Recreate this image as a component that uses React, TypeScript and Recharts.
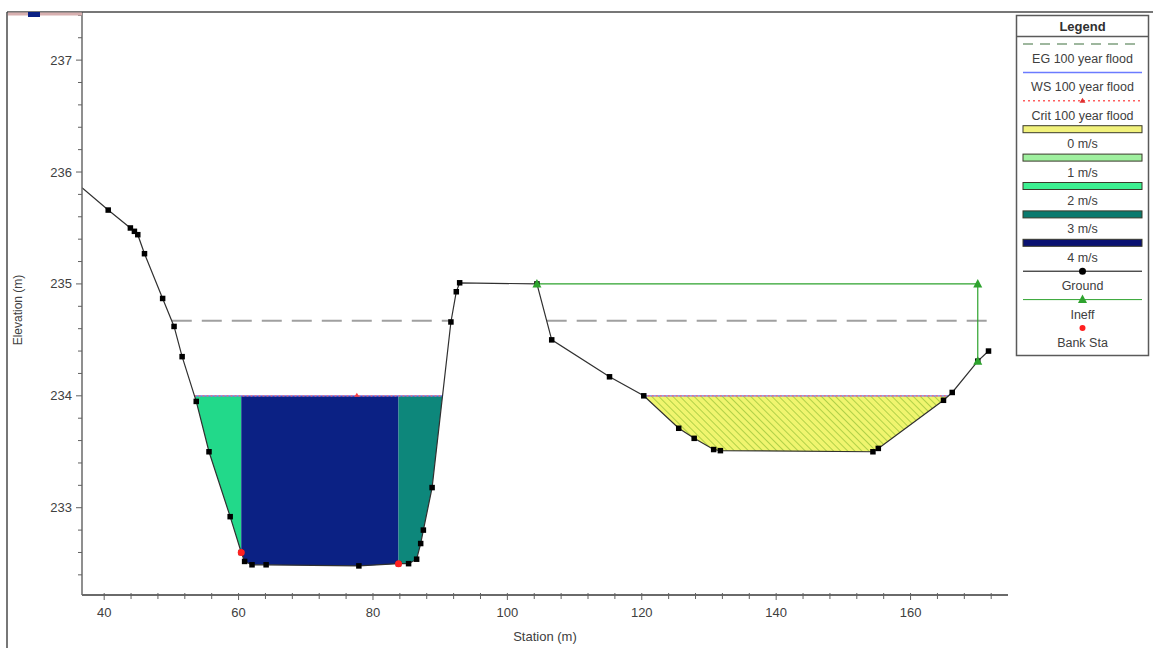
import React from "react";
import { ComposedChart, Line, Area, XAxis, YAxis } from "recharts";

const W = 1153;
const H = 648;
const FONT = '"Liberation Sans", Arial, Helvetica, sans-serif';
const TXT = "#404040";

// ---- data (station m, elevation m) ----
const groundStation = [36.7, 40.6, 43.9, 44.5, 45.0, 46.0, 48.7, 50.4, 51.6, 53.7, 55.6, 58.75, 60.4, 60.9, 62.0, 64.1, 77.9, 83.8, 85.3, 86.5, 87.1, 87.5, 88.8, 91.6, 92.4, 92.9, 104.4, 106.6, 115.2, 120.3, 125.5, 127.8, 130.7, 131.7, 154.4, 155.2, 164.9, 166.2, 170.0, 171.6];
const groundElev = [235.86, 235.66, 235.5, 235.47, 235.44, 235.27, 234.87, 234.62, 234.35, 233.95, 233.5, 232.92, 232.6, 232.52, 232.49, 232.49, 232.48, 232.5, 232.5, 232.54, 232.68, 232.8, 233.18, 234.66, 234.93, 235.01, 235.0, 234.5, 234.17, 234.0, 233.71, 233.62, 233.52, 233.51, 233.5, 233.53, 233.96, 234.03, 234.31, 234.4];

const bankStation = [60.4, 83.8];
const bankElev = [232.6, 232.5];

const ineffStation = [104.4, 170.0, 170.0];
const ineffElev = [235.0, 235.0, 234.31];

const wsElev = 234.0;
const egElev = 234.67;
const wsLeftStation = [53.44, 90.35];
const wsRightStation = [120.3, 165.64];
const egLeftStation = [50.06, 91.63];
const egRightStation = [105.85, 171.6];
const critMarkStation = [77.6];

const zone2Station = [53.44, 53.7, 55.6, 58.75, 60.4];
const zone2Bed = [234.0, 233.95, 233.5, 232.92, 232.6];
const zone4Station = [60.4, 60.9, 62.0, 64.1, 77.9, 83.8];
const zone4Bed = [232.6, 232.52, 232.49, 232.49, 232.48, 232.5];
const zone3Station = [83.8, 85.3, 86.5, 87.1, 87.5, 88.8, 90.35];
const zone3Bed = [232.5, 232.5, 232.54, 232.68, 232.8, 233.18, 234.0];
const zone0Station = [120.3, 125.5, 127.8, 130.7, 131.7, 154.4, 155.2, 164.9, 165.64];
const zone0Bed = [234.0, 233.71, 233.62, 233.52, 233.51, 233.5, 233.53, 233.96, 234.0];

const xTicks = [40, 44, 48, 52, 56, 60, 64, 68, 72, 76, 80, 84, 88, 92, 96, 100, 104, 108, 112, 116, 120, 124, 128, 132, 136, 140, 144, 148, 152, 156, 160, 164, 168, 172];
const xTickLabels = [40, 60, 80, 100, 120, 140, 160];
const yTicks = [232.4, 232.6, 232.8, 233, 233.2, 233.4, 233.6, 233.8, 234, 234.2, 234.4, 234.6, 234.8, 235, 235.2, 235.4, 235.6, 235.8, 236, 236.2, 236.4, 236.6, 236.8, 237, 237.2, 237.4];
const yTickLabels = [233, 234, 235, 236, 237];

const legendLabels = ["EG 100 year flood", "WS 100 year flood", "Crit 100 year flood", "0 m/s", "1 m/s", "2 m/s", "3 m/s", "4 m/s", "Ground", "Ineff", "Bank Sta"];

const toPts = (xs: number[], ys: number[]) => xs.map((x, i) => ({ x, y: ys[i] }));
const flat = (xs: number[], v: number) => xs.map((x) => ({ x, y: v }));
const toRange = (xs: number[], lows: number[], top: number) => xs.map((x, i) => ({ x, r: [lows[i], top] }));

const groundData = toPts(groundStation, groundElev);
const bankData = toPts(bankStation, bankElev);
const ineffData = toPts(ineffStation, ineffElev);

const XTick = (props: any) => {
  const { x, y, payload } = props;
  const v = payload.value;
  const major = xTickLabels.includes(v);
  return (
    <g>
      <line x1={x} x2={x} y1={y - 2} y2={y + (major ? 5 : 4)} stroke="#606060" strokeWidth={1} />
      {major && (
        <text x={x} y={y + 22} textAnchor="middle" fontFamily={FONT} fontSize={13} fill={TXT}>
          {v}
        </text>
      )}
    </g>
  );
};

const YTick = (props: any) => {
  const { x, y, payload } = props;
  const v = payload.value;
  const major = yTickLabels.includes(v);
  return (
    <g>
      <line x1={x - (major ? 6 : 4)} x2={x} y1={y} y2={y} stroke="#606060" strokeWidth={1} />
      {major && (
        <text x={x - 10} y={y + 4.5} textAnchor="end" fontFamily={FONT} fontSize={13} fill={TXT}>
          {v}
        </text>
      )}
    </g>
  );
};

const GroundDot = (p: any) => {
  const { cx, cy, index } = p;
  if (index === 0 || cx == null) return <g key={"gd" + index} />;
  return <rect key={"gd" + index} x={cx - 2.75} y={cy - 2.75} width={5.5} height={5.5} fill="#000" />;
};

const TriDot = (p: any) => {
  const { cx, cy, index } = p;
  return <path key={"td" + index} d={`M${cx},${cy - 5} L${cx + 4.5},${cy + 3.5} L${cx - 4.5},${cy + 3.5} Z`} fill="#2ea32e" />;
};

const BankDot = (p: any) => {
  const { cx, cy, index } = p;
  return <circle key={"bd" + index} cx={cx} cy={cy} r={3.5} fill="#ff2020" />;
};

const CritDot = (p: any) => {
  const { cx, cy, index } = p;
  return <path key={"cd" + index} d={`M${cx},${cy - 3} L${cx + 2.5},${cy + 1} L${cx - 2.5},${cy + 1} Z`} fill="#ff4040" />;
};

const Legend = () => {
  const left = 1023;
  const right = 1142;
  const cxm = (left + right) / 2;
  const stride = 28.4;
  const y0 = 44;
  const items = legendLabels.map((label, i) => {
    const sy = y0 + i * stride;
    let sym: React.ReactNode = null;
    if (i === 0) sym = <line x1={left} x2={right} y1={sy} y2={sy} stroke="#7fa07f" strokeWidth={1.5} strokeDasharray="10 7" />;
    if (i === 1) sym = <line x1={left} x2={right} y1={sy} y2={sy} stroke="#6b7bff" strokeWidth={1.5} />;
    if (i === 2)
      sym = (
        <g>
          <line x1={left} x2={right} y1={sy} y2={sy} stroke="#ff6060" strokeWidth={1.5} strokeDasharray="2 3" />
          <path d={`M${cxm},${sy - 3} L${cxm + 3},${sy + 2} L${cxm - 3},${sy + 2} Z`} fill="#e03030" />
        </g>
      );
    const rectFill = ["#f2f27c", "#9ff09f", "#3cf091", "#0a7a6e", "#0a1272"];
    if (i >= 3 && i <= 7)
      sym = <rect x={left} y={sy - 3.5} width={right - left} height={7} fill={rectFill[i - 3]} stroke="#3a3a2a" strokeWidth={1} />;
    if (i === 8)
      sym = (
        <g>
          <line x1={left} x2={right} y1={sy} y2={sy} stroke="#000" strokeWidth={1} />
          <circle cx={cxm} cy={sy} r={3.5} fill="#000" />
        </g>
      );
    if (i === 9)
      sym = (
        <g>
          <line x1={left} x2={right} y1={sy} y2={sy} stroke="#2ea32e" strokeWidth={1} />
          <path d={`M${cxm},${sy - 5} L${cxm + 4.5},${sy + 3.5} L${cxm - 4.5},${sy + 3.5} Z`} fill="#2ea32e" />
        </g>
      );
    if (i === 10) sym = <circle cx={cxm} cy={sy} r={3} fill="#ff2020" />;
    return (
      <g key={label}>
        {sym}
        <text x={cxm} y={sy + 19} textAnchor="middle" fontFamily={FONT} fontSize={12.5} fill={TXT}>
          {label}
        </text>
      </g>
    );
  });
  return (
    <g>
      <rect x={1016.5} y={15.5} width={132} height={340} fill="#fff" stroke="#5a5a5a" strokeWidth={1.5} />
      <line x1={1017} x2={1148} y1={36.5} y2={36.5} stroke="#5a5a5a" strokeWidth={1.5} />
      <text x={1082.5} y={30.5} textAnchor="middle" fontFamily={FONT} fontSize={13} fontWeight="bold" fill="#303030">
        Legend
      </text>
      {items}
    </g>
  );
};

export default function App() {
  return (
    <div style={{ position: "relative", width: W, height: H, background: "#fff", overflow: "hidden" }}>
      <style>{"body{margin:0;background:#fff}"}</style>
      <svg width={0} height={0} style={{ position: "absolute" }}>
        <defs>
          <pattern id="hatch" patternUnits="userSpaceOnUse" width={5} height={5} patternTransform="rotate(-45)">
            <rect x={0} y={0} width={5} height={5} fill="#f0f56e" />
            <line x1={0} y1={0} x2={0} y2={5} stroke="#a9cc44" strokeWidth={1.8} />
          </pattern>
        </defs>
      </svg>
      <div style={{ position: "absolute", left: 0, top: 0 }}>
        <ComposedChart width={W} height={H} margin={{ top: 12, right: 145, bottom: 23, left: 22 }}>
          <XAxis
            type="number"
            dataKey="x"
            domain={[36.7, 174.5]}
            allowDataOverflow
            ticks={xTicks}
            interval={0}
            tickSize={0}
            tickMargin={0}
            tickLine={false}
            tick={<XTick />}
            height={30}
            axisLine={{ stroke: "#6a6a6a", strokeWidth: 2 }}
          />
          <YAxis
            type="number"
            domain={[232.22, 237.43]}
            allowDataOverflow
            ticks={yTicks}
            interval={0}
            tickSize={0}
            tickMargin={0}
            tickLine={false}
            tick={<YTick />}
            width={60}
            axisLine={{ stroke: "#6a6a6a", strokeWidth: 1.5 }}
          />
          <Area data={toRange(zone0Station, zone0Bed, wsElev)} dataKey="r" type="linear" fill="url(#hatch)" fillOpacity={1} stroke="none" isAnimationActive={false} dot={false} activeDot={false} />
          <Area data={toRange(zone2Station, zone2Bed, wsElev)} dataKey="r" type="linear" fill="#22d98a" fillOpacity={1} stroke="none" isAnimationActive={false} dot={false} activeDot={false} />
          <Area data={toRange(zone4Station, zone4Bed, wsElev)} dataKey="r" type="linear" fill="#0b2184" fillOpacity={1} stroke="none" isAnimationActive={false} dot={false} activeDot={false} />
          <Area data={toRange(zone3Station, zone3Bed, wsElev)} dataKey="r" type="linear" fill="#0d877b" fillOpacity={1} stroke="none" isAnimationActive={false} dot={false} activeDot={false} />
          <Line data={flat(egLeftStation, egElev)} dataKey="y" type="linear" stroke="#a0a0a0" strokeWidth={2} strokeDasharray="20 10" dot={false} activeDot={false} isAnimationActive={false} />
          <Line data={flat(egRightStation, egElev)} dataKey="y" type="linear" stroke="#a0a0a0" strokeWidth={2} strokeDasharray="20 10" dot={false} activeDot={false} isAnimationActive={false} />
          <Line data={flat(wsLeftStation, wsElev)} dataKey="y" type="linear" stroke="#6b7bff" strokeWidth={1.2} dot={false} activeDot={false} isAnimationActive={false} />
          <Line data={flat(wsRightStation, wsElev)} dataKey="y" type="linear" stroke="#6b7bff" strokeWidth={1.2} dot={false} activeDot={false} isAnimationActive={false} />
          <Line data={flat(wsLeftStation, wsElev)} dataKey="y" type="linear" stroke="#ff6a6a" strokeWidth={1.2} strokeDasharray="2 2" dot={false} activeDot={false} isAnimationActive={false} />
          <Line data={flat(wsRightStation, wsElev)} dataKey="y" type="linear" stroke="#ff6a6a" strokeWidth={1.2} strokeDasharray="2 2" dot={false} activeDot={false} isAnimationActive={false} />
          <Line data={flat(critMarkStation, wsElev)} dataKey="y" type="linear" stroke="none" dot={<CritDot />} activeDot={false} isAnimationActive={false} />
          <Line data={groundData} dataKey="y" type="linear" stroke="#303030" strokeWidth={1.2} dot={<GroundDot />} activeDot={false} isAnimationActive={false} />
          <Line data={ineffData} dataKey="y" type="linear" stroke="#2ea32e" strokeWidth={1.2} dot={<TriDot />} activeDot={false} isAnimationActive={false} />
          <Line data={bankData} dataKey="y" type="linear" stroke="none" dot={<BankDot />} activeDot={false} isAnimationActive={false} />
        </ComposedChart>
      </div>
      <svg width={W} height={H} style={{ position: "absolute", left: 0, top: 0, pointerEvents: "none" }}>
        <line x1={7} x2={W} y1={12} y2={12} stroke="#4a4a4a" strokeWidth={1.5} />
        <line x1={7} x2={7} y1={12} y2={H} stroke="#4a4a4a" strokeWidth={1.5} />
        <line x1={8} x2={82} y1={14} y2={14} stroke="#d8b0b0" strokeWidth={3} />
        <rect x={28} y={12} width={12} height={5} fill="#0b2184" />
        <text x={545} y={641} textAnchor="middle" fontFamily={FONT} fontSize={13} fill={TXT}>
          Station (m)
        </text>
        <text x={0} y={0} transform="translate(22,310) rotate(-90)" textAnchor="middle" fontFamily={FONT} fontSize={12} fill={TXT}>
          Elevation (m)
        </text>
        <Legend />
      </svg>
    </div>
  );
}
